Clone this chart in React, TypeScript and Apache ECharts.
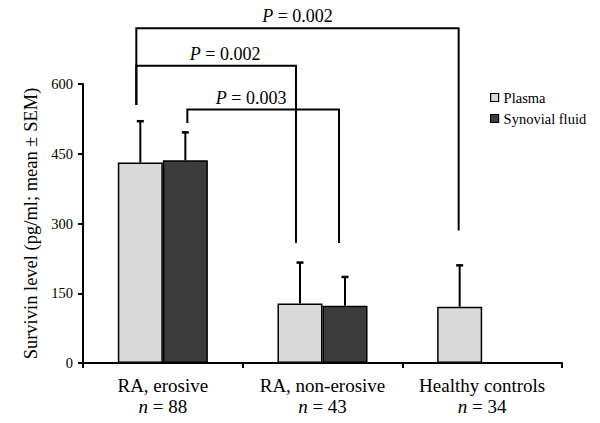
import React, { useEffect, useRef } from "react";
import * as echarts from "echarts";

const categories = ["RA, erosive", "RA, non-erosive", "Healthy controls"];
const groupSizes = [88, 43, 34];
const plasmaMean = [431, 128, 121];
const plasmaSEM = [89, 88, 89];
const synovialMean = [436, 123, null];
const synovialSEM = [60, 62, null];
const yTicks = { min: 0, max: 600, interval: 150 };

// significance brackets: [from category, from bar], [to category, to bar]
const bracketLabels = ["0.002", "0.002", "0.003"];
const bracketFrom = [[0, 0], [0, 0], [0, 1]];
const bracketTo = [[2, 0], [1, 0], [1, 1]];
const bracketTop = [720, 639, 545];
const bracketFromEnd = [555, 555, 516];
const bracketToEnd = [285, 258, 258];

const FONT = "'Liberation Serif', 'Times New Roman', serif";
const BAR_FRAC = 0.282;
const bracketStyle = [
  { fromDx: -4, toDx: -1, textDx: 0 },
  { fromDx: -4, toDx: -4, textDx: 9 },
  { fromDx: 2, toDx: -6, textDx: -12 },
];

export default function App() {
  const ref = useRef<HTMLDivElement>(null);
  useEffect(() => {
    document.body.style.margin = "0";
    const chart = echarts.init(ref.current!, null, { renderer: "svg" });

    const errData: any[] = [];
    plasmaMean.forEach((m, i) => errData.push([i, m, plasmaSEM[i], 0]));
    synovialMean.forEach((m, i) => {
      if (m != null) errData.push([i, m, synovialSEM[i], 1]);
    });

    const barX = (api: any, cat: number, bar: number) => {
      const band = api.size([1, 0])[0];
      const c = api.coord([cat, 0])[0];
      return c + (bar === 0 ? -1 : 1) * band * BAR_FRAC * 0.5;
    };

    const option: any = {
      animation: false,
      grid: { left: 83, right: 38, top: 84, bottom: 60 },
      legend: {
        data: ["Plasma", "Synovial fluid"],
        orient: "vertical",
        left: 490,
        top: 90,
        padding: 0,
        icon: "rect",
        itemWidth: 8,
        itemHeight: 8,
        itemGap: 6,
        itemStyle: { borderColor: "#000", borderWidth: 1.2 },
        textStyle: { fontFamily: FONT, fontSize: 14.5, color: "#000", lineHeight: 15 },
      },
      xAxis: {
        type: "category",
        data: categories,
        axisLine: { lineStyle: { color: "#000", width: 2 } },
        axisTick: { show: true, length: 5, lineStyle: { color: "#000", width: 2 } },
        axisLabel: {
          margin: 12,
          interval: 0,
          formatter: (v: string, i: number) => `{a|${v}}\n{i|n}{a| = ${groupSizes[i]}}`,
          rich: {
            a: { fontFamily: FONT, fontSize: 19, color: "#000", lineHeight: 21 },
            i: { fontFamily: FONT, fontSize: 19, color: "#000", fontStyle: "italic", lineHeight: 21 },
          },
        },
      },
      yAxis: {
        type: "value",
        min: yTicks.min,
        max: yTicks.max,
        interval: yTicks.interval,
        name: "Survivin level (pg/ml; mean ± SEM)",
        nameLocation: "middle",
        nameGap: 41,
        nameTextStyle: { fontFamily: FONT, fontSize: 18.5, color: "#000" },
        splitLine: { show: false },
        axisLine: { show: true, lineStyle: { color: "#000", width: 2 } },
        axisTick: { show: true, length: 5, lineStyle: { color: "#000", width: 2 } },
        axisLabel: { margin: 10, fontFamily: FONT, fontSize: 14.5, color: "#000" },
      },
      series: [
        {
          name: "Plasma",
          type: "bar",
          data: plasmaMean,
          barWidth: BAR_FRAC * 100 + "%",
          barGap: "0%",
          itemStyle: { color: "#d9d9d9", borderColor: "#000", borderWidth: 1.5 },
        },
        {
          name: "Synovial fluid",
          type: "bar",
          data: synovialMean,
          barWidth: BAR_FRAC * 100 + "%",
          barGap: "0%",
          itemStyle: { color: "#3c3c3c", borderColor: "#000", borderWidth: 1.5 },
        },
        {
          type: "custom",
          data: errData,
          encode: { x: 0, y: 1 },
          z: 5,
          clip: false,
          renderItem: (params: any, api: any) => {
            const cat = api.value(0);
            const mean = api.value(1);
            const sem = api.value(2);
            const bar = api.value(3);
            const x = barX(api, cat, bar);
            const y0 = api.coord([cat, mean])[1];
            const y1 = api.coord([cat, mean + sem])[1];
            return {
              type: "group",
              children: [
                { type: "line", shape: { x1: x, y1: y0, x2: x, y2: y1 }, style: { stroke: "#000", lineWidth: 2 } },
                { type: "line", shape: { x1: x - 3.5, y1: y1, x2: x + 3.5, y2: y1 }, style: { stroke: "#000", lineWidth: 2.5 } },
              ],
            };
          },
        },
        {
          type: "custom",
          data: bracketLabels.map((_, i) => [bracketFrom[i][0], bracketTop[i], i]),
          encode: { x: 0, y: 1 },
          z: 6,
          clip: false,
          renderItem: (params: any, api: any) => {
            const i = api.value(2);
            const st = bracketStyle[i];
            const x1 = barX(api, bracketFrom[i][0], bracketFrom[i][1]) + st.fromDx;
            const x2 = barX(api, bracketTo[i][0], bracketTo[i][1]) + st.toDx;
            const yTop = api.coord([0, bracketTop[i]])[1];
            const yA = api.coord([0, bracketFromEnd[i]])[1];
            const yB = api.coord([0, bracketToEnd[i]])[1];
            return {
              type: "group",
              children: [
                {
                  type: "polyline",
                  shape: { points: [[x1, yA], [x1, yTop], [x2, yTop], [x2, yB]] },
                  style: { stroke: "#000", lineWidth: 2, fill: "none" },
                },
                {
                  type: "text",
                  x: (x1 + x2) / 2 + st.textDx,
                  y: yTop - 3,
                  style: {
                    text: `{i|P} = ${bracketLabels[i]}`,
                    align: "center",
                    verticalAlign: "bottom",
                    fontFamily: FONT,
                    fontSize: 18,
                    fill: "#000",
                    rich: { i: { fontStyle: "italic", fontFamily: FONT, fontSize: 18, fill: "#000" } },
                  },
                },
              ],
            };
          },
        },
      ],
    };
    chart.setOption(option);
    return () => chart.dispose();
  }, []);
  return <div ref={ref} style={{ width: 600, height: 423 }} />;
}
